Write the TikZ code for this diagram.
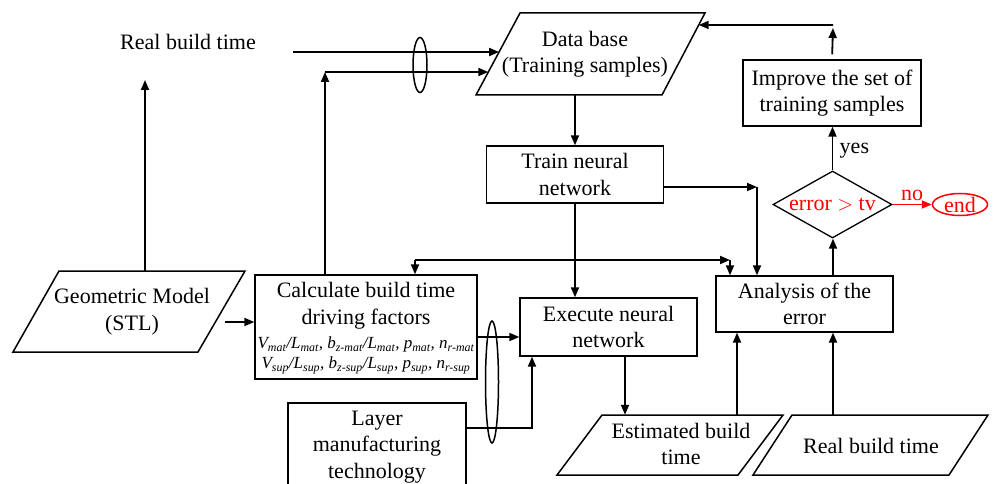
\documentclass[tikz,border=0pt]{standalone}
\usepackage{fontspec}
\setmainfont{Liberation Serif}
\usetikzlibrary{arrows.meta,shapes.geometric,calc}
\begin{document}
\begin{tikzpicture}[x=1pt,y=-1pt,
  every node/.style={font=\fontsize{22}{26.5}\selectfont},
  box/.style={draw,line width=1.3pt,inner sep=0pt,align=center},
  ghost/.style={inner sep=0pt,align=center},
  para/.style={line width=1.5pt,line join=miter},
  arr/.style={line width=1.8pt,-{Triangle[length=10pt,width=8pt]}},
  ell/.style={draw,ellipse,line width=1.5pt,inner sep=0pt},
  fml/.style={inner sep=0pt,align=center,font=\fontsize{17}{20}\selectfont\itshape}]
\useasboundingbox (0,0) rectangle (1002,484);

% ---------- nodes ----------
\node[ghost] (rbt) at (188,42) {Real build time};

% Data base
\node[ghost,minimum height=82pt] (db) at (585,54) {Data base\\(Training samples)};
\coordinate (dbTL) at ($(db.center)+(-65,-41)$);
\coordinate (dbTR) at ($(db.center)+(120,-41)$);
\coordinate (dbBR) at ($(db.center)+(77,41)$);
\coordinate (dbBL) at ($(db.center)+(-109,41)$);
\draw[para] (dbTL) -- (dbTR) -- (dbBR) -- (dbBL) -- cycle;

% Geometric model
\node[ghost,minimum height=81pt] (geo) at (132,311.5) {Geometric Model\\(STL)};
\draw[para] ($(geo.center)+(-73,-40.5)$) -- ($(geo.center)+(113,-40.5)$)
  -- ($(geo.center)+(66,40.5)$) -- ($(geo.center)+(-119,40.5)$) -- cycle;

% Estimated build time
\node[ghost,minimum height=58pt] (est) at (681,444) {Estimated build\\time};
\draw[para] ($(est.center)+(-79,-29)$) -- ($(est.center)+(102,-29)$)
  -- ($(est.center)+(57,31)$) -- ($(est.center)+(-124,31)$) -- cycle;

% Real build time (bottom)
\node[ghost,minimum height=62pt] (rbt2) at (871,446) {Real build time};
\draw[para] ($(rbt2.center)+(-79,-31)$) -- ($(rbt2.center)+(117,-31)$)
  -- ($(rbt2.center)+(78,29)$) -- ($(rbt2.center)+(-118,29)$) -- cycle;

% boxes
\node[box,minimum width=177pt,minimum height=57pt] (train) at (575,174.5) {Train neural\\network};
\node[box,minimum width=177pt,minimum height=58pt] (exec) at (608.5,327) {Execute neural\\network};
\node[box,minimum width=177pt,minimum height=56pt] (an) at (804.5,304) {Analysis of the\\error};
\node[box,minimum width=178pt,minimum height=66pt] (imp) at (832,93) {Improve the set of\\training samples};
\node[box,minimum width=178pt,minimum height=88pt] (layer) at (377,447) {Layer\\manufacturing\\technology};
\node[box,minimum width=222pt,minimum height=104pt] (calc) at (366,327) {};
\node[ghost] (calct) at (366,305.5) {Calculate build time\\driving factors};
\node[fml] (calcf) at (366,355.5) {V\textsubscript{mat}/L\textsubscript{mat}, b\textsubscript{z-mat}/L\textsubscript{mat}, p\textsubscript{mat}, n\textsubscript{r-mat}\\
V\textsubscript{sup}/L\textsubscript{sup}, b\textsubscript{z-sup}/L\textsubscript{sup}, p\textsubscript{sup}, n\textsubscript{r-sup}};

% decision
\node[draw,diamond,line width=1.3pt,inner sep=0pt,minimum width=119pt,minimum height=67pt,aspect=1.78,text=red] (dia) at (832.5,204.5) {error $>$ tv};
\node[ell,draw=red,text=red,minimum width=55pt,minimum height=22pt] (end) at (960,204.5) {end};

% ellipses
\node[ell,minimum width=14pt,minimum height=55pt] (e1) at (420,65) {};
\node[ell,minimum width=13pt,minimum height=122pt] (e2) at (492,382) {};

% ---------- connectors ----------
\coordinate (r1) at (293,52);
\draw[arr] (r1) -- ($(dbTL)!0.4756!(dbBL)$);

\coordinate (k1) at (325,72);
\draw[arr] (calc.north -| k1) -- (k1);
\draw[arr] (k1) -- ($(dbTL)!0.7195!(dbBL)$);

\draw[arr] (db.south -| train.north) -- (train.north);
\draw[arr] (train.south) -- (train.south |- exec.north);

\coordinate (k2) at (757,187);
\draw[arr] (train.east |- k2) -- (k2);
\draw[arr] (k2) -- (k2 |- an.north);

\coordinate (k3) at (415,260);
\coordinate (k4) at (730,260);
\draw[arr] (k3) -- (calc.north -| k3);
\draw[arr] (k3) -- (k4);
\draw[arr] (k4) -- (k4 |- an.north);

\coordinate (k6) at (145,80);
\draw[arr] (k6 |- geo.north) -- (k6);

\coordinate (k5) at (225,322);
\draw[arr] (k5) -- (calc.west |- k5);

\coordinate (k7) at (500,337);
\draw[arr] (calc.east |- k7) -- (exec.west |- k7);

\coordinate (k8) at (532,428);
\draw[arr] (layer.east |- k8) -- (k8) -- (k8 |- exec.south);

\coordinate (k9) at (625,300);
\draw[arr] (k9 |- exec.south) -- (k9 |- est.north);

\coordinate (a1) at (737,300);
\draw[arr] (a1 |- est.north) -- (a1 |- an.south);
\coordinate (a2) at (833,300);
\draw[arr] (a2 |- rbt2.north) -- (a2 |- an.south);
\draw[arr] (a2 |- an.north) -- (a2 |- dia.south);

\draw[arr] (dia.north) -- (dia.north |- imp.south) node[pos=0.45,right=3pt] {yes};

\coordinate (k10) at (833,25);
\draw[arr,shorten <=5pt] (imp.north) -- ($(k10)+(0,3)$);
\draw[arr] (k10) -- ($(dbTR)!0.146!(dbBR)$);

\draw[arr,red] (dia.east) -- (end.west) node[midway,above=0pt,text=red] {no};
\end{tikzpicture}
\end{document}
